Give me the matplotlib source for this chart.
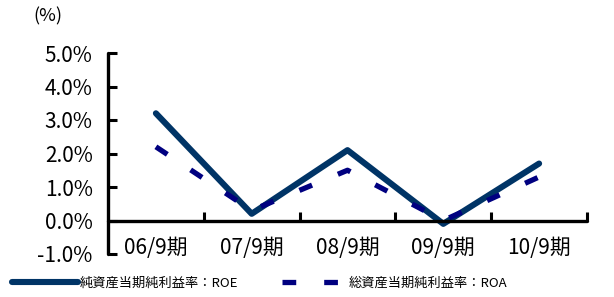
import matplotlib.pyplot as plt
import numpy as np
from matplotlib.ticker import FixedLocator, FuncFormatter

plt.rcParams['font.family'] = ['Noto Sans CJK JP', 'DejaVu Sans']

# data
periods = ['06/9期', '07/9期', '08/9期', '09/9期', '10/9期']
roe = [3.2, 0.2, 2.1, -0.1, 1.7]
roa = [2.2, 0.3, 1.5, 0.0, 1.3]
yticks = [-1, 0, 1, 2, 3, 4, 5]

fig = plt.figure(figsize=(6.14, 2.97), dpi=100)
ax = fig.add_axes([108/614, 1-254/297, (587-108)/614, (254-53)/297])

x = np.arange(len(periods))
l1, = ax.plot(x, roe, color='#003466', lw=4.4, solid_capstyle='round',
              solid_joinstyle='round', label='純資産当期純利益率：ROE')
l2, = ax.plot(x, roa, color='#000080', lw=3.8, dashes=(2.6, 5.3),
              dash_capstyle='butt', label='総資産当期純利益率：ROA')

ax.set_xlim(-0.5, len(periods) - 0.5)
ax.set_ylim(-1, 5)

for s in ['top', 'right']:
    ax.spines[s].set_visible(False)
ax.spines['bottom'].set_position(('data', 0))
ax.spines['bottom'].set_linewidth(2.4)
ax.spines['left'].set_linewidth(2.4)
ax.spines['left'].set_capstyle('round')
ax.spines['bottom'].set_capstyle('round')

ax.yaxis.set_major_locator(FixedLocator(yticks))
ax.yaxis.set_major_formatter(FuncFormatter(lambda v, p: '%.1f%%' % v))
ax.tick_params(axis='y', direction='in', length=6.5, width=2.2, pad=11,
               labelsize=15)

ax.xaxis.set_major_locator(FixedLocator(np.arange(len(periods)) + 0.5))
ax.xaxis.set_major_formatter(FuncFormatter(lambda v, p: ''))
ax.xaxis.set_minor_locator(FixedLocator(x))
ax.set_xticklabels(periods, minor=True)
ax.tick_params(axis='x', which='major', direction='in', length=6.5, width=2.2)
ax.tick_params(axis='x', which='minor', length=0, pad=12, labelsize=15)

fig.text(33/614, 1-16/297, '(%)', fontsize=13, va='center')

fig.legend(handles=[l1, l2], loc='center left', bbox_to_anchor=(0.02, 1-283/297),
           ncol=2, frameon=False, fontsize=9.5, handlelength=5.0,
           handletextpad=0.1, columnspacing=3.3, borderaxespad=0, borderpad=0)

fig.savefig('out.png', dpi=100)
